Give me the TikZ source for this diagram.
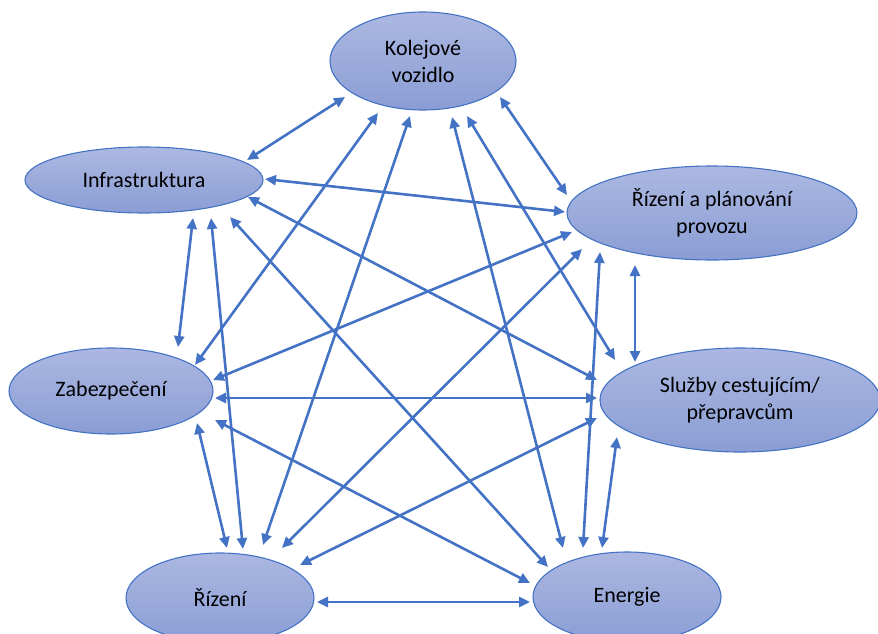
\documentclass[tikz,border=0pt]{standalone}
\usepackage{fontspec}
\setmainfont{Carlito}
\usetikzlibrary{arrows.meta,calc,shapes.geometric}
\definecolor{edgeblue}{RGB}{68,114,196}
\definecolor{filltop}{RGB}{172,184,226}
\definecolor{fillbot}{RGB}{138,157,212}
\begin{document}
\begin{tikzpicture}[x=1pt,y=-1pt,
  ell/.style={ellipse, draw=edgeblue, line width=1.1pt, top color=filltop, bottom color=fillbot,
    inner sep=0pt, outer sep=0pt, align=center, font=\fontsize{22}{27}\selectfont, text=black},
  link/.style={draw=edgeblue, line width=2.6pt,
    {Triangle[length=11pt,width=10pt]}-{Triangle[length=11pt,width=10pt]}}]
\useasboundingbox (0,0) rectangle (878,634);
\node[ell, minimum width=186pt, minimum height=98pt] (kv) at (423,61) {Kolejové\\vozidlo};
\node[ell, minimum width=238pt, minimum height=66pt] (in) at (144,180) {Infrastruktura};
\node[ell, minimum width=290pt, minimum height=94pt] (rp) at (712,213) {Řízení a plánování\\provozu};
\node[ell, minimum width=204pt, minimum height=86pt] (za) at (111,391) {Zabezpečení};
\node[ell, minimum width=280pt, minimum height=104pt] (sl) at (740,400) {Služby cestujícím/\\přepravcům};
\node[ell, minimum width=188pt, minimum height=90pt] (ri) at (220,598) {Řízení};
\node[ell, minimum width=188pt, minimum height=90pt] (en) at (627,597) {Energie};
% Kolejove vozidlo
\draw[link] ($(kv)+(-78,36)$) -- ($(in)+(103,-20)$);
\draw[link] ($(kv)+(77,36)$) -- ($(rp)+(-145,-18)$);
\draw[link] ($(kv)+(-45,52)$) -- ($(za)+(84,-26)$);
\draw[link] ($(kv)+(-13,55)$) -- ($(ri)+(43,-53)$);
\draw[link] ($(kv)+(29,56)$) -- ($(en)+(-64,-49)$);
\draw[link] ($(kv)+(44,55)$) -- ($(sl)+(-125,-40)$);
% Infrastruktura
\draw[link] ($(in)+(121,-1)$) -- ($(rp)+(-147,-1)$);
\draw[link] ($(in)+(104,17)$) -- ($(sl)+(-143,-20)$);
\draw[link] ($(in)+(49,38)$) -- ($(za)+(67,-44)$);
\draw[link] ($(in)+(67,38)$) -- ($(ri)+(23,-49)$);
\draw[link] ($(in)+(86,37)$) -- ($(en)+(-79,-30)$);
% Rizeni a planovani provozu
\draw[link] ($(rp)+(-140,19)$) -- ($(za)+(102,-11)$);
\draw[link] ($(rp)+(-130,36)$) -- ($(ri)+(62,-50)$);
\draw[link] ($(rp)+(-112,39)$) -- ($(en)+(-44,-49)$);
\draw[link] ($(rp)+(-77,52)$) -- ($(sl)+(-105,-38)$);
% Zabezpeceni
\draw[link] ($(za)+(104,7)$) -- ($(sl)+(-143,-2)$);
\draw[link] ($(za)+(86,32)$) -- ($(ri)+(7,-50)$);
\draw[link] ($(za)+(104,29)$) -- ($(en)+(-97,-14)$);
% Sluzby
\draw[link] ($(sl)+(-143,18)$) -- ($(ri)+(80,-33)$);
\draw[link] ($(sl)+(-123,37)$) -- ($(en)+(-25,-49)$);
% Rizeni - Energie
\draw[link] ($(ri)+(97,4)$) -- ($(en)+(-97,5)$);
\end{tikzpicture}
\end{document}
